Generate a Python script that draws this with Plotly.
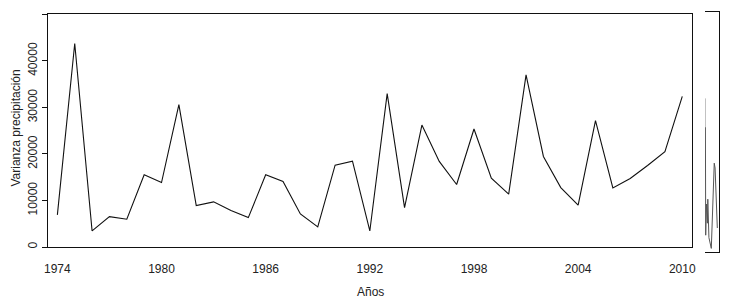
import plotly.graph_objects as go

years = list(range(1974, 2011))
varianza = [6900, 43750, 3450, 6530, 5970, 15520, 13860, 30600, 8900, 9700,
            7830, 6320, 15520, 14080, 7110, 4310, 17600, 18460, 3450, 32970,
            8470, 26220, 18390, 13430, 25360, 14800, 11350, 37000, 19460, 12780,
            8980, 27150, 12710, 14720, 17520, 20470, 32390]
x_ticks = [1974, 1980, 1986, 1992, 1998, 2004, 2010]
y_ticks = [0, 10000, 20000, 30000, 40000, 50000]

# small side panel (compressed trace)
inset_x_light = [0.03, 0.03]
inset_y_light = [0.64, 0.52]
inset_x = [0.03, 0.05, 0.1, 0.17, 0.2, 0.28, 0.45, 0.66, 0.72, 0.88]
inset_y = [0.52, 0.07, 0.2, 0.12, 0.22, 0.06, 0.015, 0.37, 0.35, 0.1]

FONT = "Liberation Sans Narrow, Arial Narrow, Liberation Sans, Arial, sans-serif"
OFF = 8  # page body margin
W, H = 731 - OFF, 308 - OFF
L, R, T, B = 40, 12, 4, 56
pw, ph = W - L - R, H - T - B

def px_x(px):
    return (px - OFF - L) / pw

def px_y(py):
    return (H - B - (py - OFF)) / ph

fig = go.Figure()
fig.add_trace(go.Scatter(x=years, y=varianza, mode="lines",
                         line=dict(color="#111111", width=1.1),
                         xaxis="x", yaxis="y", showlegend=False))
fig.add_trace(go.Scatter(x=inset_x_light, y=inset_y_light, mode="lines",
                         line=dict(color="#bbbbbb", width=1),
                         xaxis="x2", yaxis="y2", showlegend=False))
fig.add_trace(go.Scatter(x=inset_x, y=inset_y, mode="lines",
                         line=dict(color="#555555", width=1),
                         xaxis="x2", yaxis="y2", showlegend=False))

fig.update_layout(
    width=W, height=H,
    margin=dict(l=L, r=R, t=T, b=B, pad=0, autoexpand=False),
    paper_bgcolor="white", plot_bgcolor="white",
    font=dict(family=FONT, size=12, color="#222222"),
    xaxis=dict(domain=[0, px_x(692)], range=[1973.46, 2010.56], automargin=False,
               tickvals=x_ticks, ticktext=[str(v) for v in x_ticks],
               ticks="", ticklabelstandoff=11,
               showline=True, linecolor="#111111", linewidth=1, mirror=True,
               showgrid=False, zeroline=False,
               tickfont=dict(family=FONT, size=12, color="#222222")),
    yaxis=dict(domain=[px_y(247), px_y(14.3)], range=[0, 50020], automargin=False,
               tickvals=y_ticks, ticktext=[str(v) for v in y_ticks],
               ticks="outside", ticklen=5, tickcolor="#111111", tickwidth=1,
               tickangle=-90,
               showline=True, linecolor="#111111", linewidth=1, mirror=True,
               showgrid=False, zeroline=False,
               tickfont=dict(family=FONT, size=12, color="#222222")),
    xaxis2=dict(domain=[px_x(705), 1], range=[0, 1], anchor="y2", automargin=False,
                showticklabels=False, ticks="", showgrid=False, zeroline=False,
                showline=True, linecolor="#111111", linewidth=1, mirror=True),
    yaxis2=dict(domain=[0, 1], range=[0, 1], anchor="x2", side="right", automargin=False,
                showticklabels=False, ticks="", showgrid=False, zeroline=False,
                showline=True, linecolor="#111111", linewidth=1),
    annotations=[
        dict(text="Años", xref="paper", yref="paper", x=px_x(370), y=px_y(291.5),
             xanchor="center", yanchor="middle", showarrow=False,
             font=dict(family=FONT, size=12, color="#222222")),
        dict(text="Varianza precipitación", xref="paper", yref="paper",
             x=px_x(15.5), y=px_y(128), xanchor="center", yanchor="middle",
             textangle=-90, showarrow=False, borderpad=0,
             font=dict(family=FONT, size=12, color="#222222")),
    ],
)

fig.write_html("out.html")
